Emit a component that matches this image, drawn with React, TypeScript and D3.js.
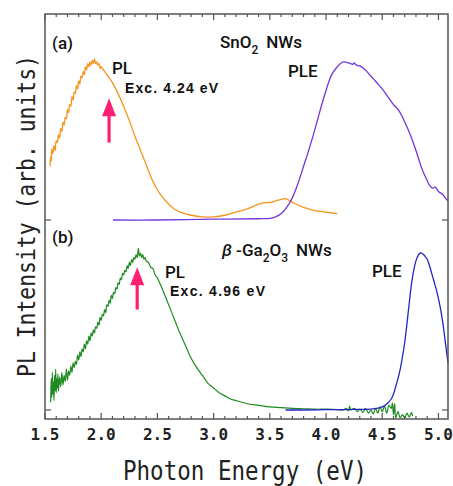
import React from 'react';
import * as d3 from 'd3';

// panel (a) SnO2 NWs
const snoPL: [number, number][] = [
  [1.545, 0.34], [1.55, 0.40], [1.555, 0.37], [1.56, 0.45], [1.57, 0.42], [1.58, 0.47], [1.59, 0.44],
  [1.60, 0.50], [1.61, 0.49], [1.62, 0.54], [1.63, 0.52], [1.64, 0.58], [1.65, 0.56], [1.66, 0.62],
  [1.67, 0.60], [1.68, 0.65], [1.69, 0.64], [1.70, 0.70], [1.71, 0.68], [1.72, 0.73], [1.73, 0.72],
  [1.74, 0.78], [1.75, 0.76], [1.76, 0.81], [1.77, 0.80], [1.78, 0.85], [1.79, 0.83], [1.80, 0.88],
  [1.81, 0.86], [1.82, 0.91], [1.83, 0.90], [1.84, 0.94], [1.85, 0.92], [1.86, 0.97], [1.87, 0.95],
  [1.88, 0.99], [1.89, 0.97], [1.90, 1.00], [1.91, 0.98], [1.92, 1.01], [1.93, 0.99], [1.94, 1.02],
  [1.95, 0.99], [1.96, 1.00], [1.97, 0.98], [1.98, 0.99], [1.99, 0.96], [2.00, 0.97], [2.02, 0.95],
  [2.04, 0.93], [2.06, 0.91], [2.08, 0.89], [2.10, 0.87], [2.15, 0.80], [2.20, 0.72], [2.25, 0.63],
  [2.30, 0.53], [2.35, 0.44], [2.40, 0.35], [2.45, 0.26], [2.50, 0.19], [2.55, 0.14], [2.60, 0.10],
  [2.65, 0.07], [2.70, 0.05], [2.80, 0.03], [2.90, 0.02], [3.00, 0.02], [3.10, 0.03], [3.20, 0.05],
  [3.30, 0.07], [3.40, 0.10], [3.45, 0.11], [3.50, 0.11], [3.55, 0.12], [3.60, 0.13], [3.64, 0.135],
  [3.68, 0.12], [3.72, 0.105], [3.80, 0.08], [3.90, 0.06], [4.00, 0.05], [4.10, 0.04],
];

const snoPLE: [number, number][] = [
  [2.105, 0], [2.5, 0.0], [3.0, 0.005], [3.4, 0.008], [3.5, 0.01], [3.55, 0.02], [3.6, 0.04],
  [3.65, 0.08], [3.7, 0.14], [3.75, 0.23], [3.8, 0.34], [3.85, 0.45], [3.9, 0.57], [3.95, 0.70],
  [4.0, 0.82], [4.05, 0.92], [4.1, 0.97], [4.15, 1.0], [4.2, 0.995], [4.22, 0.99], [4.24, 0.985],
  [4.25, 0.995], [4.27, 0.98], [4.3, 0.975], [4.35, 0.95], [4.4, 0.91], [4.45, 0.87], [4.5, 0.83],
  [4.55, 0.78], [4.6, 0.73], [4.65, 0.69], [4.7, 0.62], [4.75, 0.54], [4.8, 0.44], [4.85, 0.33],
  [4.88, 0.28], [4.9, 0.25], [4.92, 0.22], [4.95, 0.20], [4.97, 0.21], [5.0, 0.18], [5.02, 0.17],
  [5.04, 0.16], [5.06, 0.14], [5.085, 0.12],
];

// panel (b) beta-Ga2O3 NWs
const gaPL: [number, number][] = [
  [1.55, 0.05], [1.555, 0.20], [1.56, 0.08], [1.565, 0.24], [1.57, 0.10], [1.575, 0.18], [1.58, 0.06],
  [1.585, 0.22], [1.59, 0.12], [1.595, 0.26], [1.60, 0.11], [1.605, 0.20], [1.61, 0.14], [1.615, 0.23],
  [1.62, 0.12], [1.63, 0.21], [1.64, 0.15], [1.65, 0.24], [1.66, 0.16], [1.67, 0.22], [1.68, 0.18],
  [1.69, 0.26], [1.70, 0.19], [1.71, 0.25], [1.72, 0.22], [1.73, 0.28], [1.74, 0.24], [1.75, 0.30],
  [1.76, 0.27], [1.77, 0.31], [1.78, 0.29], [1.79, 0.35], [1.80, 0.32], [1.81, 0.37], [1.82, 0.34],
  [1.83, 0.39], [1.84, 0.37], [1.85, 0.42], [1.86, 0.39], [1.87, 0.44], [1.88, 0.42], [1.89, 0.47],
  [1.90, 0.44], [1.91, 0.49], [1.92, 0.47], [1.93, 0.51], [1.94, 0.49], [1.95, 0.53], [1.96, 0.52],
  [1.97, 0.56], [1.98, 0.54], [1.99, 0.59], [2.00, 0.57], [2.01, 0.61], [2.02, 0.60], [2.03, 0.64],
  [2.04, 0.62], [2.05, 0.67], [2.06, 0.66], [2.07, 0.70], [2.08, 0.68], [2.09, 0.73], [2.10, 0.71],
  [2.11, 0.75], [2.12, 0.74], [2.13, 0.78], [2.14, 0.77], [2.15, 0.81], [2.16, 0.80], [2.17, 0.84],
  [2.18, 0.83], [2.19, 0.87], [2.20, 0.86], [2.21, 0.89], [2.22, 0.88], [2.23, 0.92], [2.24, 0.90],
  [2.25, 0.94], [2.26, 0.92], [2.27, 0.96], [2.28, 0.94], [2.29, 0.97], [2.30, 0.96], [2.31, 0.99],
  [2.32, 0.97], [2.33, 1.03], [2.34, 0.98], [2.35, 1.00], [2.36, 0.97], [2.37, 0.99], [2.38, 0.96],
  [2.39, 0.97], [2.40, 0.95], [2.42, 0.94], [2.44, 0.91], [2.46, 0.90], [2.48, 0.86], [2.50, 0.84],
  [2.52, 0.81], [2.55, 0.76], [2.60, 0.67], [2.65, 0.58], [2.70, 0.49], [2.75, 0.41], [2.80, 0.33],
  [2.85, 0.27], [2.90, 0.22], [2.95, 0.17], [3.00, 0.14], [3.05, 0.11], [3.10, 0.09], [3.15, 0.07],
  [3.20, 0.06], [3.30, 0.04], [3.40, 0.03], [3.50, 0.02], [3.60, 0.015], [3.70, 0.01], [3.80, 0.008],
  [3.90, 0.005], [4.00, 0.005], [4.10, 0.003], [4.15, 0.0], [4.18, 0.01], [4.20, -0.005], [4.21, 0.025],
  [4.22, 0.0], [4.25, 0.01], [4.28, -0.01], [4.30, 0.005], [4.33, -0.015], [4.35, 0.01], [4.38, -0.02],
  [4.40, 0.0], [4.42, -0.025], [4.44, 0.01], [4.46, -0.02], [4.48, 0.02], [4.50, -0.01], [4.52, 0.025],
  [4.54, -0.02], [4.56, 0.03], [4.58, 0.01], [4.59, 0.045], [4.60, -0.03], [4.61, 0.04], [4.62, -0.05],
  [4.64, -0.01], [4.66, -0.05], [4.68, -0.03], [4.70, -0.05], [4.72, -0.02], [4.74, -0.045],
  [4.76, -0.015], [4.77, -0.04],
];

const gaPLE: [number, number][] = [
  [3.64, 0], [3.8, 0.0], [4.0, 0.002], [4.2, 0.003], [4.4, 0.006], [4.45, 0.01], [4.5, 0.02],
  [4.55, 0.045], [4.58, 0.07], [4.6, 0.10], [4.62, 0.15], [4.64, 0.20], [4.66, 0.26], [4.68, 0.34],
  [4.70, 0.43], [4.72, 0.55], [4.74, 0.68], [4.76, 0.80], [4.78, 0.89], [4.80, 0.95], [4.82, 0.985],
  [4.84, 1.0], [4.86, 0.995], [4.88, 0.98], [4.90, 0.96], [4.92, 0.92], [4.94, 0.87], [4.96, 0.82],
  [4.98, 0.77], [5.00, 0.71], [5.02, 0.64], [5.04, 0.55], [5.06, 0.44], [5.085, 0.30],
];

// arrows: [energy, tail intensity, tip intensity]
const arrowA = [2.07, 0.49, 0.77];
const arrowB = [2.32, 0.64, 0.91];

const xTickLabels = ['1.5', '2.0', '2.5', '3.0', '3.5', '4.0', '4.5', '5.0'];

const W = 453;
const H = 486;
const left = 45, right = 448, top = 14, bottom = 419;

export default function App() {
  const x = d3.scaleLinear().domain([1.5, 5.085]).range([left, right]);
  const yA = d3.scaleLinear().domain([0, 1]).range([220, 62]);
  const yB = d3.scaleLinear().domain([0, 1]).range([410, 253]);

  const lineA = d3.line<[number, number]>().x(d => x(d[0])).y(d => yA(d[1])).curve(d3.curveCatmullRom.alpha(0.5));
  const lineB = d3.line<[number, number]>().x(d => x(d[0])).y(d => yB(d[1])).curve(d3.curveCatmullRom.alpha(0.5));

  const ticks = d3.range(15, 51);
  const frame = '#555';

  const arrow = (a: number[], y: d3.ScaleLinear<number, number>) => {
    const cx = x(a[0]);
    const tail = y(a[1]);
    const tip = y(a[2]);
    const hh = 18, hw = 7;
    return (
      <g fill="#ff1f70" stroke="none">
        <rect x={cx - 1.6} y={tip + hh - 2} width={3.2} height={tail - tip - hh + 2} />
        <path d={`M${cx},${tip} L${cx + hw},${tip + hh} L${cx - hw},${tip + hh} Z`} />
      </g>
    );
  };

  const cond = "Roboto, 'Liberation Sans', sans-serif";
  const bold = "'Liberation Sans', Arial, sans-serif";
  const mono = "'DejaVu Sans Mono', monospace";

  return (
    <div style={{ position: 'absolute', left: 0, top: 0 }}>
      <svg width={W} height={H} style={{ display: 'block', background: '#fff' }}>
        {/* curves */}
        <path d={lineA(snoPL) || ''} fill="none" stroke="#f7941d" strokeWidth={1.3} />
        <path d={lineA(snoPLE) || ''} fill="none" stroke="#7236dc" strokeWidth={1.3} />
        <path d={lineB(gaPL) || ''} fill="none" stroke="#1e8a22" strokeWidth={1.2} />
        <path d={lineB(gaPLE) || ''} fill="none" stroke="#2424c4" strokeWidth={1.3} />

        {/* frame */}
        <rect x={left} y={top} width={right - left} height={bottom - top} fill="none" stroke={frame} strokeWidth={1.5} />
        {ticks.map(t => {
          const major = t % 5 === 0;
          const px = x(t / 10);
          const len = major ? 6 : 3;
          return (
            <g key={t} stroke={frame} strokeWidth={1.2}>
              <line x1={px} x2={px} y1={bottom} y2={bottom - len} />
              <line x1={px} x2={px} y1={top} y2={top + len} />
            </g>
          );
        })}
        {[yA(0), yB(0)].map((py, i) => (
          <g key={i} stroke={frame} strokeWidth={1.2}>
            <line x1={left} x2={left + 6} y1={py} y2={py} />
            <line x1={right} x2={right - 6} y1={py} y2={py} />
          </g>
        ))}

        {/* tick labels */}
        {xTickLabels.map(l => (
          <text key={l} x={x(+l)} y={440} textAnchor="middle" fontFamily={mono} fontWeight="bold"
            fontSize={16} fill="#222">{l}</text>
        ))}

        {/* axis titles */}
        <text x={245} y={480} textAnchor="middle" fontFamily={mono} fontSize={26} fill="#222"
          textLength={244} lengthAdjust="spacingAndGlyphs">Photon Energy (eV)</text>
        <text transform="translate(35,216) rotate(-90)" textAnchor="middle" fontFamily={mono} fontSize={25}
          fill="#222" textLength={322} lengthAdjust="spacingAndGlyphs">PL Intensity (arb. units)</text>

        {/* panel (a) annotations */}
        <g fontFamily={cond} fontWeight={500} fontSize={17} fill="#111">
          <text x={52} y={49}>(a)</text>
          <text x={112} y={74}>PL</text>
          <text x={220} y={48}>SnO<tspan fontSize={12} dy={6}>2</tspan><tspan dy={-6} dx={8}>NWs</tspan></text>
          <text x={288} y={77}>PLE</text>
        </g>
        <text x={125} y={93} fontFamily={bold} fontWeight="bold" fontSize={14} fill="#111"
          textLength={93}>Exc. 4.24 eV</text>
        {arrow(arrowA, yA)}

        {/* panel (b) annotations */}
        <g fontFamily={cond} fontWeight={500} fontSize={17} fill="#111">
          <text x={52} y={243}>(b)</text>
          <text x={222} y={256}><tspan fontStyle="italic">β</tspan> -Ga<tspan fontSize={12} dy={6}>2</tspan><tspan dy={-6}>O</tspan><tspan fontSize={12} dy={6}>3</tspan><tspan dy={-6} dx={8}>NWs</tspan></text>
          <text x={165} y={278}>PL</text>
          <text x={372} y={277}>PLE</text>
        </g>
        <text x={170} y={296} fontFamily={bold} fontWeight="bold" fontSize={14} fill="#111"
          textLength={95}>Exc. 4.96 eV</text>
        {arrow(arrowB, yB)}
      </svg>
    </div>
  );
}
